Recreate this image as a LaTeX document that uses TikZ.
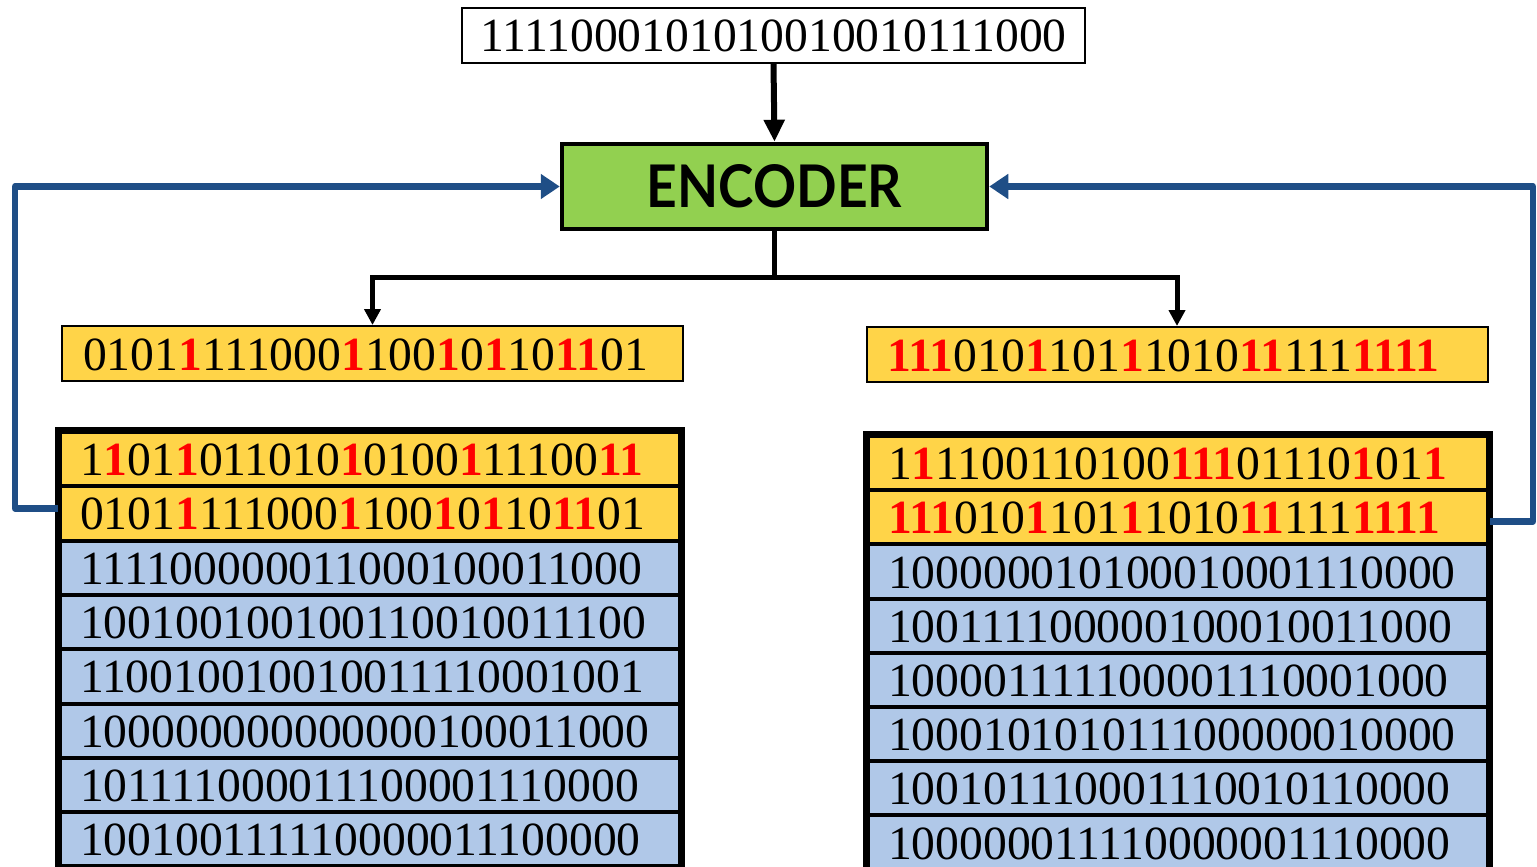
\documentclass[tikz,border=0pt]{standalone}
\usepackage{fontspec}
\usepackage{graphicx}
\setmainfont{Liberation Serif}
\newfontfamily\encfont{Lato}
\usetikzlibrary{arrows.meta,calc}
\definecolor{yel}{HTML}{FFD448}
\definecolor{blu}{HTML}{B0C8E8}
\definecolor{grn}{HTML}{92D050}
\definecolor{fbc}{HTML}{1F4E86}
\newcommand\rd[1]{\textcolor{red}{\bfseries #1}}
\begin{document}
\begin{tikzpicture}[x=1pt,y=-1pt,
  bits/.style={font=\fontsize{47.6}{50}\selectfont, text height=33pt, text depth=0pt, inner ysep=0pt},
  single/.style={bits, draw=black, line width=2pt, fill=yel, minimum width=621pt, minimum height=55pt, text width=579pt, align=left, inner xsep=21pt},
  row/.style={bits, draw=black, line width=4pt, minimum width=620pt, text width=580pt, align=left, inner xsep=20pt},
  lrow/.style={row, minimum height=54.3pt},
  rrow/.style={row, minimum height=54.2pt},
  topbox/.style={bits, draw=black, line width=2.2pt, fill=white, minimum width=623pt, minimum height=55pt},
  enc/.style={draw=black, line width=4.5pt, fill=grn, minimum width=425pt, minimum height=85pt, inner sep=0pt},
  arr/.style={line width=6pt, -{Triangle[length=22pt,width=20pt]}},
  arrs/.style={line width=5pt, -{Triangle[length=16pt,width=16pt]}},
  fb/.style={draw=fbc, line width=6.5pt, line join=round, -{Triangle[length=19pt,width=24pt]}}
]
\clip (0,0) rectangle (1537,867);
\fill[white] (0,0) rectangle (1537,867);

% input
\node[topbox] (top) at (773.5,35.5) {1111000101010010010111000};
% encoder
\node[enc] (enc) at (774.5,186.5) {\resizebox{255pt}{43pt}{\encfont\bfseries ENCODER}};

% single outputs
\node[single] (ly) at (372.5,353.5) {0101\rd{1}111000\rd{1}100\rd{1}0\rd{1}10\rd{11}01};
\node[single] (ry) at (1177,354.5) {\rd{111}010\rd{1}101\rd{1}1010\rd{11}111\rd{1111}};

% left table
\node[lrow,fill=yel] (l1) at (370,459.15) {1\rd{1}01\rd{1}011010\rd{1}0100\rd{1}11100\rd{11}};
\node[lrow,fill=yel] (l2) at (370,513.45) {0101\rd{1}111000\rd{1}100\rd{1}0\rd{1}10\rd{11}01};
\node[lrow,fill=blu] (l3) at (370,567.75) {111100000011000100011000};
\node[lrow,fill=blu] (l4) at (370,622.05) {100100100100110010011100};
\node[lrow,fill=blu] (l5) at (370,676.35) {110010010010011110001001};
\node[lrow,fill=blu] (l6) at (370,730.65) {100000000000000100011000};
\node[lrow,fill=blu] (l7) at (370,784.95) {101111000011100001110000};
\node[lrow,fill=blu] (l8) at (370,839.25) {100100111110000011100000};
\draw[line width=6.5pt] (l1.north west) rectangle (l8.south east);

% right table
\node[rrow,fill=yel] (r1) at (1178,463.1) {1\rd{1}1100110100\rd{111}01110\rd{1}01\rd{1}};
\node[rrow,fill=yel] (r2) at (1178,517.3) {\rd{111}010\rd{1}101\rd{1}1010\rd{11}111\rd{1111}};
\node[rrow,fill=blu] (r3) at (1178,571.5) {100000010100010001110000};
\node[rrow,fill=blu] (r4) at (1178,625.7) {100111100000100010011000};
\node[rrow,fill=blu] (r5) at (1178,679.9) {100001111100001110001000};
\node[rrow,fill=blu] (r6) at (1178,734.1) {100010101011100000010000};
\node[rrow,fill=blu] (r7) at (1178,788.3) {100101110001110010110000};
\node[rrow,fill=blu] (r8) at (1178,842.5) {100000011110000001110000};
\draw[line width=6.5pt] (r1.north west) rectangle (r8.south east);

% connectors
\coordinate (sp) at (773,277);
\coordinate (lc) at (15,0);
\coordinate (rc) at (1533,0);
\draw[arr] (top.south) -- (enc.north);
\draw[line width=5pt] (enc.south) -- (enc.south |- sp);
\draw[arrs] (enc.south |- sp) -| (ly.north);
\draw[arrs] (enc.south |- sp) -| (ry.north);
\draw[fb] ([yshift=5pt]l2.west) -| (lc |- enc.west) -- (enc.west);
\draw[fb] ([yshift=-4pt]r2.east) -| (rc |- enc.east) -- (enc.east);
\end{tikzpicture}
\end{document}
